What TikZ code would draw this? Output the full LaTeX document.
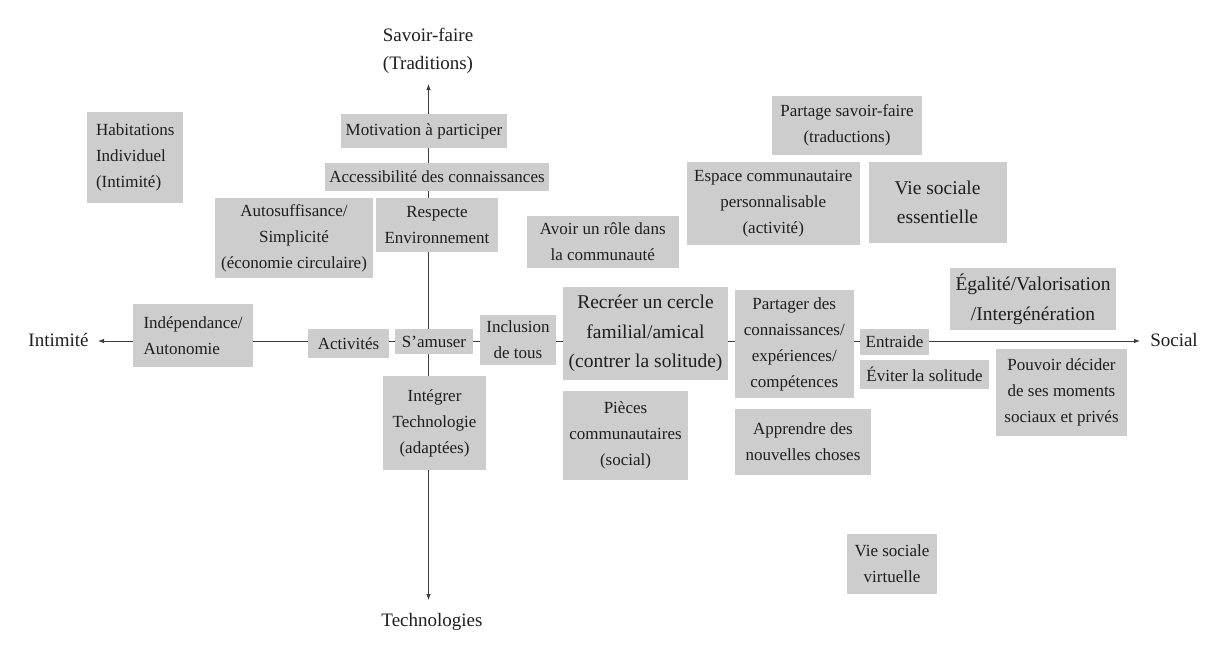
\documentclass[tikz,border=0pt]{standalone}
\usepackage{fontspec}
\setmainfont{Liberation Serif}
\usetikzlibrary{arrows.meta,backgrounds}
\definecolor{boxgray}{RGB}{205,205,205}
\definecolor{ink}{RGB}{30,30,30}
\definecolor{axisgray}{RGB}{60,60,60}
\tikzset{
  box/.style={fill=boxgray, inner sep=0pt, align=center, text=ink, font=\fontsize{17}{26}\selectfont},
  bigbox/.style={box, font=\fontsize{19.5}{29.5}\selectfont},
  leftbox/.style={box, align=left, inner ysep=0pt},
  axislabel/.style={inner sep=0pt, text=ink, align=center, font=\fontsize{19}{28}\selectfont},
  axisline/.style={draw=axisgray, line width=0.9pt, {Latex[length=6pt,width=4.5pt]}-{Latex[length=6pt,width=4.5pt]}},
}
\begin{document}
\begin{tikzpicture}[x=1pt,y=-1pt]
\useasboundingbox (0,0) rectangle (1217,657);
% axis labels
\node[axislabel] (trad) at (428,51) {Savoir-faire\\(Traditions)};
\node[axislabel] (techno) at (432,622) {Technologies};
\node[axislabel] (intim) at (58.5,340) {Intimité};
\node[axislabel] (social) at (1174,340) {Social};
% boxes
\node[leftbox, text width=78pt, inner xsep=9pt, minimum height=91pt] (hab) at (135,157.5) {Habitations\\Individuel\\(Intimité)};
\node[box, minimum width=166pt, minimum height=34pt] (motiv) at (424,131) {Motivation à participer};
\node[box, minimum width=224pt, minimum height=28pt] (access) at (437,177) {Accessibilité des connaissances};
\node[box, minimum width=158pt, minimum height=80pt] (auto) at (294,238) {Autosuffisance/\\Simplicité\\(économie circulaire)};
\node[box, minimum width=122pt, minimum height=54pt] (resp) at (437,225) {Respecte\\Environnement};
\node[box, minimum width=152.5pt, minimum height=52pt] (role) at (602.75,242) {Avoir un rôle dans\\la communauté};
\node[box, minimum width=150pt, minimum height=59pt] (partage) at (847,125.5) {Partage savoir-faire\\(traductions)};
\node[box, minimum width=173.5pt, minimum height=83pt] (espace) at (773.25,203.5) {Espace communautaire\\personnalisable\\(activité)};
\node[bigbox, minimum width=138pt, minimum height=81pt] (viess) at (937.5,202.5) {Vie sociale\\essentielle};
\node[bigbox, minimum width=166pt, minimum height=62pt] (egal) at (1033,299) {Égalité/Valorisation\\/Intergénération};
\node[leftbox, text width=99pt, inner xsep=10.5pt, minimum height=63pt] (indep) at (193,335.5) {Indépendance/\\Autonomie};
\node[box, minimum width=81pt, minimum height=29pt] (activ) at (348.5,343.5) {Activités};
\node[box, minimum width=78pt, minimum height=25pt] (amuser) at (434,341.5) {S'amuser};
\node[box, minimum width=76pt, minimum height=50pt] (incl) at (518,340) {Inclusion\\de tous};
\node[bigbox, minimum width=165pt, minimum height=93pt] (recr) at (645.5,333.5) {Recréer un cercle\\familial/amical\\(contrer la solitude)};
\node[box, minimum width=118.5pt, minimum height=108pt] (partager) at (794.25,344) {Partager des\\connaissances/\\expériences/\\compétences};
\node[box, minimum width=69pt, minimum height=26pt] (entr) at (894.5,342) {Entraide};
\node[box, minimum width=129pt, minimum height=29pt] (evit) at (924.5,374.5) {Éviter la solitude};
\node[box, minimum width=131pt, minimum height=87pt] (pouv) at (1061.5,392.5) {Pouvoir décider\\de ses moments\\sociaux et privés};
\node[box, minimum width=103pt, minimum height=94pt] (integ) at (434.5,423) {Intégrer\\Technologie\\(adaptées)};
\node[box, minimum width=125pt, minimum height=89pt] (pieces) at (625.5,435.5) {Pièces\\communautaires\\(social)};
\node[box, minimum width=136pt, minimum height=66pt] (appr) at (803,442) {Apprendre des\\nouvelles choses};
\node[box, minimum width=90pt, minimum height=60pt] (virt) at (892,564) {Vie sociale\\virtuelle};
% axes
\coordinate (tipN) at (428.5,84);
\coordinate (tipS) at (428.5,600);
\coordinate (tipW) at (98,341);
\coordinate (tipE) at (1140,341);
\begin{pgfonlayer}{background}
\fill[white] (0,0) rectangle (1217,657);
\draw[axisline] (tipS) -- (tipN);
\draw[axisline] (tipW) -- (tipE);
\end{pgfonlayer}
\end{tikzpicture}
\end{document}
